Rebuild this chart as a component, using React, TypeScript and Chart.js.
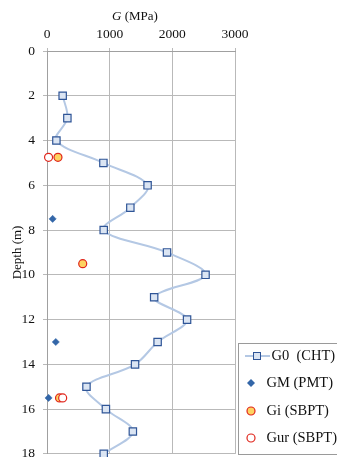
import React, { useEffect, useRef } from "react";
import { Chart, registerables } from "chart.js";

Chart.register(...registerables);

const FONT = "'Liberation Serif', 'Times New Roman', serif";

const g0Depth = [2, 3, 4, 5, 6, 7, 8, 9, 10, 11, 12, 13, 14, 15, 16, 17, 18];
const g0Values = [250, 325, 150, 900, 1605, 1330, 905, 1915, 2530, 1710, 2235, 1765, 1405, 630, 940, 1370, 905];
const gmDepth = [7.5, 13, 15.5];
const gmValues = [90, 140, 25];
const giDepth = [4.75, 9.5, 15.5];
const giValues = [175, 570, 200];
const gurDepth = [4.75, 15.5];
const gurValues = [25, 250];
const xTicks = [0, 1000, 2000, 3000];
const yTicks = [0, 2, 4, 6, 8, 10, 12, 14, 16, 18];
const legendLabels = ["G0  (CHT)", "GM (PMT)", "Gi (SBPT)", "Gur (SBPT)"];

const C_LINE = "#b4c8e4";
const C_SQ_FILL = "#dbe5f3";
const C_SQ_BORDER = "#2f5597";
const C_DIAMOND = "#3366a8";
const C_RED = "#e0251b";
const C_YELLOW = "#fdd361";

const pts = (xs: number[], ys: number[]) => xs.map((x, i) => ({ x, y: ys[i] }));

const titlePlugin = {
  id: "topTitle",
  afterDraw(chart: any) {
    const ctx = chart.ctx;
    ctx.save();
    ctx.fillStyle = "#111";
    ctx.textBaseline = "middle";
    ctx.textAlign = "left";
    ctx.font = `italic 13px ${FONT}`;
    const wG = ctx.measureText("G").width;
    ctx.font = `13px ${FONT}`;
    const wRest = ctx.measureText(" (MPa)").width;
    const cx = (chart.chartArea.left + chart.chartArea.right) / 2 - 6;
    const x0 = cx - (wG + wRest) / 2;
    ctx.font = `italic 13px ${FONT}`;
    ctx.fillText("G", x0, 17);
    ctx.font = `13px ${FONT}`;
    ctx.fillText(" (MPa)", x0 + wG, 17);
    ctx.restore();
  },
};

const legendPlugin = {
  id: "customLegend",
  afterDraw(chart: any) {
    const ctx = chart.ctx;
    ctx.save();
    ctx.strokeStyle = "#9a9a9a";
    ctx.lineWidth = 1;
    ctx.strokeRect(238.5, 343.5, 200, 111);
    const ys = [356, 383, 411, 438];
    ctx.font = `14.5px ${FONT}`;
    ctx.fillStyle = "#111";
    ctx.textBaseline = "middle";
    ctx.textAlign = "left";
    // G0
    ctx.strokeStyle = C_LINE;
    ctx.lineWidth = 2;
    ctx.beginPath();
    ctx.moveTo(245, ys[0]);
    ctx.lineTo(270, ys[0]);
    ctx.stroke();
    ctx.fillStyle = C_SQ_FILL;
    ctx.fillRect(253.5, ys[0] - 3.5, 7, 7);
    ctx.strokeStyle = C_SQ_BORDER;
    ctx.lineWidth = 1;
    ctx.strokeRect(253.5, ys[0] - 3.5, 7, 7);
    ctx.fillStyle = "#111";
    ctx.fillText(legendLabels[0], 271.5, ys[0]);
    // GM diamond
    ctx.fillStyle = C_DIAMOND;
    ctx.beginPath();
    ctx.moveTo(251, ys[1] - 4);
    ctx.lineTo(255, ys[1]);
    ctx.lineTo(251, ys[1] + 4);
    ctx.lineTo(247, ys[1]);
    ctx.closePath();
    ctx.fill();
    ctx.fillStyle = "#111";
    ctx.fillText(legendLabels[1], 266.5, ys[1]);
    // Gi
    ctx.beginPath();
    ctx.arc(251, ys[2], 4, 0, Math.PI * 2);
    ctx.fillStyle = C_YELLOW;
    ctx.fill();
    ctx.strokeStyle = C_RED;
    ctx.lineWidth = 1.2;
    ctx.stroke();
    ctx.fillStyle = "#111";
    ctx.fillText(legendLabels[2], 266.5, ys[2]);
    // Gur
    ctx.beginPath();
    ctx.arc(251, ys[3], 4, 0, Math.PI * 2);
    ctx.fillStyle = "#fff";
    ctx.fill();
    ctx.strokeStyle = C_RED;
    ctx.stroke();
    ctx.fillStyle = "#111";
    ctx.fillText(legendLabels[3], 266.5, ys[3]);
    ctx.restore();
  },
};

export default function App() {
  const ref = useRef<HTMLCanvasElement | null>(null);

  useEffect(() => {
    document.body.style.margin = "0";
    document.body.style.overflow = "hidden";
    if (!ref.current) return;
    const chart = new Chart(ref.current, {
      type: "line",
      data: {
        datasets: [
          {
            label: legendLabels[0],
            data: pts(g0Values, g0Depth),
            borderColor: C_LINE,
            borderWidth: 2,
            tension: 0.35,
            pointStyle: "rect",
            pointRadius: 5.2,
            pointBackgroundColor: C_SQ_FILL,
            pointBorderColor: C_SQ_BORDER,
            pointBorderWidth: 1.2,
            clip: false,
            order: 4,
          },
          {
            label: legendLabels[1],
            data: pts(gmValues, gmDepth),
            showLine: false,
            pointStyle: "rectRot",
            pointRadius: 3.6,
            pointBackgroundColor: C_DIAMOND,
            pointBorderColor: C_DIAMOND,
            pointBorderWidth: 0.5,
            clip: false,
            order: 3,
          },
          {
            label: legendLabels[2],
            data: pts(giValues, giDepth),
            showLine: false,
            pointStyle: "circle",
            pointRadius: 4,
            pointBackgroundColor: C_YELLOW,
            pointBorderColor: C_RED,
            pointBorderWidth: 1.2,
            clip: false,
            order: 2,
          },
          {
            label: legendLabels[3],
            data: pts(gurValues, gurDepth),
            showLine: false,
            pointStyle: "circle",
            pointRadius: 4,
            pointBackgroundColor: "#ffffff",
            pointBorderColor: C_RED,
            pointBorderWidth: 1.2,
            clip: false,
            order: 1,
          },
        ],
      },
      options: {
        animation: false,
        responsive: true,
        maintainAspectRatio: false,
        layout: { padding: { top: 0, left: 0, right: 102, bottom: 15 } },
        plugins: {
          legend: { display: false },
          tooltip: { enabled: false },
          title: { display: false },
        },
        scales: {
          x: {
            type: "linear",
            position: "top",
            min: 0,
            max: 3000,
            afterFit: (s: any) => {
              s.height = 51;
            },
            afterBuildTicks: (s: any) => {
              s.ticks = xTicks.map((v) => ({ value: v }));
            },
            grid: {
              color: "#b9b9b9",
              lineWidth: 1,
              tickLength: 3,
              drawTicks: true,
            },
            border: { display: true, color: "#a0a0a0" },
            ticks: {
              font: { family: FONT, size: 13.5 },
              color: "#111",
              padding: 5,
              maxRotation: 0,
              callback: (v: any) => String(v),
            },
          },
          y: {
            type: "linear",
            reverse: true,
            min: 0,
            max: 18,
            afterFit: (s: any) => {
              s.width = 47;
            },
            afterBuildTicks: (s: any) => {
              s.ticks = yTicks.map((v) => ({ value: v }));
            },
            grid: {
              color: "#b9b9b9",
              lineWidth: 1,
              tickLength: 4,
            },
            border: { display: true, color: "#a0a0a0" },
            ticks: {
              font: { family: FONT, size: 13.5 },
              color: "#111",
              padding: 8,
              callback: (v: any) => String(v),
            },
            title: {
              display: true,
              text: "Depth (m)",
              font: { family: FONT, size: 13 },
              color: "#111",
              padding: { top: 10, bottom: 0 },
            },
          },
        },
      },
      plugins: [titlePlugin, legendPlugin],
    });
    return () => chart.destroy();
  }, []);

  return (
    <div style={{ position: "fixed", left: 0, top: 0, width: 337, height: 457, overflow: "hidden", background: "#fff" }}>
      <div style={{ position: "relative", width: 337, height: 470 }}>
        <canvas ref={ref} />
      </div>
    </div>
  );
}
